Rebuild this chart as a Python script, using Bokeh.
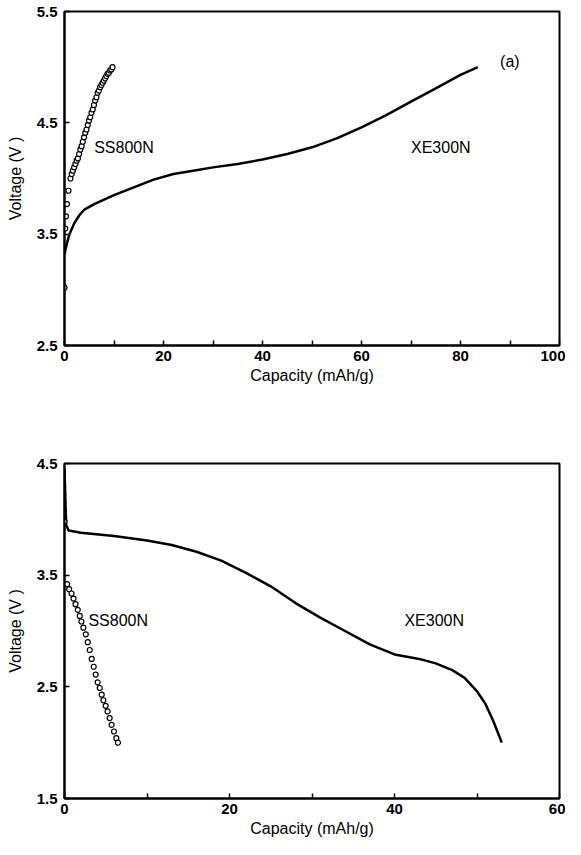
from bokeh.plotting import figure
from bokeh.models import Range1d, FixedTicker, Label
from bokeh.layouts import column
from bokeh.embed import file_html
from bokeh.resources import INLINE

# ---- (a) charge curves ----
xe_charge_cap = [0, 0.5, 1, 2, 3, 4, 6, 8, 10, 14, 18, 22, 26, 30, 35, 40, 45, 50,
                 55, 60, 65, 70, 75, 80, 83.5]
xe_charge_v = [3.32, 3.42, 3.50, 3.60, 3.67, 3.72, 3.77, 3.81, 3.85, 3.92, 3.99, 4.04,
               4.07, 4.10, 4.13, 4.17, 4.22, 4.28, 4.36, 4.46, 4.57, 4.69, 4.81, 4.93, 5.00]

ss_charge_cap = [0, 0.15, 0.3, 0.5, 0.8, 1.2, 1.45, 1.7, 1.95, 2.2, 2.45, 2.7, 2.95, 3.2,
                 3.45, 3.7, 3.95, 4.2, 4.45, 4.7, 4.95, 5.2, 5.45, 5.7, 5.95, 6.2, 6.45,
                 6.7, 6.95, 7.2, 7.45, 7.7, 7.95, 8.2, 8.45, 8.7, 8.95, 9.2, 9.45, 9.7]
ss_charge_v = [3.02, 3.55, 3.66, 3.77, 3.89, 4.00, 4.04, 4.07, 4.10, 4.13, 4.16, 4.18,
               4.22, 4.26, 4.29, 4.33, 4.37, 4.41, 4.44, 4.48, 4.52, 4.55, 4.59, 4.62,
               4.66, 4.70, 4.73, 4.77, 4.79, 4.82, 4.84, 4.86, 4.88, 4.90, 4.92, 4.94,
               4.95, 4.97, 4.98, 5.00]

# ---- (b) discharge curves ----
xe_dis_cap = [0, 0.2, 0.5, 2, 6, 10, 13, 16, 19, 22, 25, 28, 31, 34, 37, 40, 43, 45,
              47, 48.5, 50, 51, 52, 53]
xe_dis_v = [4.45, 3.95, 3.90, 3.88, 3.85, 3.81, 3.77, 3.71, 3.63, 3.52, 3.40, 3.25,
            3.12, 3.00, 2.88, 2.79, 2.75, 2.71, 2.65, 2.58, 2.46, 2.35, 2.19, 2.00]

ss_dis_cap = [0, 0.32, 0.56, 0.85, 1.09, 1.33, 1.61, 1.85, 2.05, 2.29, 2.58, 2.82, 3.06,
              3.30, 3.54, 3.78, 4.02, 4.27, 4.51, 4.71, 4.99, 5.23, 5.47, 5.71, 6.00,
              6.28, 6.48]
ss_dis_v = [3.98, 3.42, 3.375, 3.336, 3.29, 3.24, 3.19, 3.135, 3.085, 3.03, 2.97, 2.90,
            2.83, 2.75, 2.68, 2.61, 2.54, 2.49, 2.43, 2.38, 2.33, 2.28, 2.22, 2.16,
            2.10, 2.04, 2.00]

top_xticks = [0, 20, 40, 60, 80, 100]
top_xminor = [10, 30, 50, 70, 90]
top_yticks = [2.5, 3.5, 4.5, 5.5]
bot_xticks = [0, 20, 40, 60]
bot_xminor = [10, 30, 50]
bot_yticks = [1.5, 2.5, 3.5, 4.5]

FONT = "Liberation Sans"


def style(p, xt, xm, yt):
    p.xaxis.ticker = FixedTicker(ticks=xt, minor_ticks=xm)
    p.yaxis.ticker = FixedTicker(ticks=yt, minor_ticks=[])
    p.xgrid.visible = False
    p.ygrid.visible = False
    p.outline_line_color = "black"
    p.outline_line_width = 2
    p.outline_line_alpha = 1
    for ax in (p.xaxis[0], p.yaxis[0]):
        ax.axis_line_width = 2
        ax.axis_line_color = "black"
        ax.major_tick_in = 5
        ax.major_tick_out = 0
        ax.minor_tick_in = 5
        ax.minor_tick_out = 0
        ax.major_tick_line_width = 1.5
        ax.minor_tick_line_width = 1.5
        ax.major_tick_line_color = "black"
        ax.minor_tick_line_color = "black"
        ax.major_label_text_font = FONT
        ax.major_label_text_font_style = "bold"
        ax.major_label_text_font_size = "15px"
        ax.major_label_text_color = "black"
        ax.axis_label_text_font = FONT
        ax.axis_label_text_font_style = "normal"
        ax.axis_label_text_font_size = "16px"
        ax.axis_label_text_color = "black"
    p.xaxis.major_label_standoff = 5
    p.xaxis.axis_label_standoff = 3
    p.yaxis.major_label_standoff = 7
    p.yaxis.axis_label_standoff = 10
    p.xaxis.axis_label = "Capacity (mAh/g)"
    p.yaxis.axis_label = "Voltage (V )"
    p.background_fill_color = "white"
    p.border_fill_color = "white"


def label(p, x, y, t):
    p.add_layout(Label(x=x, y=y, text=t, text_font=FONT, text_font_size="16px",
                       text_color="black", text_baseline="middle", text_align="left"))


p1 = figure(width=565, height=388, output_backend="svg", toolbar_location=None,
            x_range=Range1d(0, 100), y_range=Range1d(2.5, 5.5),
            min_border_left=62, min_border_right=6, min_border_top=11, min_border_bottom=43)
style(p1, top_xticks, top_xminor, top_yticks)
p1.line(xe_charge_cap, xe_charge_v, line_color="black", line_width=2.5)
p1.scatter(ss_charge_cap, ss_charge_v, marker="circle", size=5, fill_color="white",
           line_color="black", line_width=1.2)
label(p1, 6.0, 4.28, "SS800N")
label(p1, 70.0, 4.28, "XE300N")
label(p1, 88.0, 5.05, "(a)")

p2 = figure(width=565, height=451, output_backend="svg", toolbar_location=None,
            x_range=Range1d(0, 60), y_range=Range1d(1.5, 4.5),
            min_border_left=64, min_border_right=4, min_border_top=75, min_border_bottom=41)
style(p2, bot_xticks, bot_xminor, bot_yticks)
p2.line(xe_dis_cap, xe_dis_v, line_color="black", line_width=2.5)
p2.scatter(ss_dis_cap, ss_dis_v, marker="circle", size=5, fill_color="white",
           line_color="black", line_width=1.2)
label(p2, 2.9, 3.09, "SS800N")
label(p2, 41.2, 3.09, "XE300N")

layout = column(p1, p2, spacing=0)
open("out.html", "w").write(file_html(layout, INLINE))
